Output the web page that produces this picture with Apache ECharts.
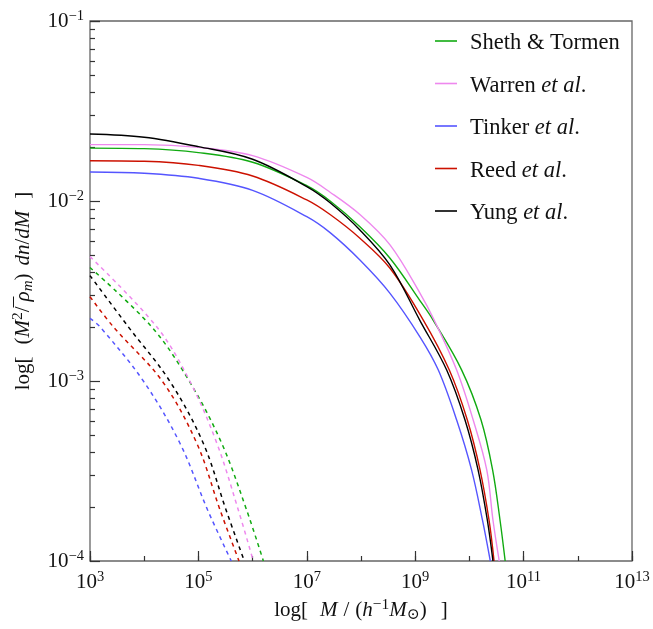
<!DOCTYPE html>
<html><head><meta charset="utf-8">
<script src="https://cdn.jsdelivr.net/npm/echarts@6/dist/echarts.min.js"></script>
<style>html,body{margin:0;padding:0;background:#fff}#c{width:653px;height:629px}</style>
</head><body><div id="c"></div>
<script>
// ---- data (M in h^-1 Msun, y = M^2/rho_m dn/dM) ----
const legendNames = ['Sheth & Tormen', 'Warren et al.', 'Tinker et al.', 'Reed et al.', 'Yung et al.'];
const lineColors = ['#11aa11', '#ee88ee', '#5555ff', '#cc1100', '#000000'];

const shethTormenSolid = [[1e3,0.01968],[1e4,0.01954],[1e5,0.01858],[1e6,0.01641],[1e7,0.01216],[2.69e7,0.0100],[9.55e7,0.00719],[3.43e8,0.00481],[1.23e9,0.00279],[2.14e9,0.00218],[7.21e9,0.00115],[1.64e10,6.07e-4],[2.68e10,3.21e-4],[3.67e10,1.69e-4],[4.57e10,1e-4]];
const warrenSolid = [[1e3,0.02056],[1e4,0.02056],[1e5,0.01986],[1e6,0.01786],[1e7,0.01352],[2.69e7,0.01119],[9.55e7,0.00841],[3.43e8,0.0057],[1.23e9,0.00307],[2.24e9,0.00218],[5.82e9,0.00115],[1.175e10,6.07e-4],[2.09e10,3.21e-4],[2.72e10,1.69e-4],[3.55e10,1e-4]];
const tinkerSolid = [[1e3,0.01449],[1e4,0.01426],[1e5,0.01337],[1e6,0.01146],[1e7,0.00818],[2.69e7,0.00667],[9.55e7,0.0047],[3.43e8,0.00307],[1.23e9,0.001755],[2.67e9,0.00115],[5.82e9,6.07e-4],[1.096e10,3.21e-4],[1.74e10,1.69e-4],[2.43e10,1e-4]];
const reedSolid = [[1e3,0.01675],[1e4,0.01663],[1e5,0.01578],[1e6,0.01377],[1e7,0.01014],[2.69e7,0.00841],[9.55e7,0.00621],[3.43e8,0.00423],[1.41e9,0.00218],[4.26e9,0.00115],[9.16e9,6.07e-4],[1.57e10,3.21e-4],[2.3e10,1.69e-4],[2.85e10,1e-4]];
const yungSolid = [[1e3,0.02355],[1e4,0.0226],[1e5,0.02004],[1e6,0.01706],[1e7,0.01202],[2.69e7,0.00977],[9.55e7,0.0069],[3.43e8,0.0044],[1.21e9,0.00218],[3.81e9,0.00115],[8.3e9,6.07e-4],[1.445e10,3.21e-4],[2.14e10,1.69e-4],[2.72e10,1e-4]];

const shethTormenDashed = [[1e3,4.27e-3],[1.37e4,2.0e-3],[6.76e4,1e-3],[2.69e5,4.51e-4],[7.76e5,1.92e-4],[1.58e6,1e-4]];
const warrenDashed = [[1e3,4.91e-3],[1.7e4,2.0e-3],[6.92e4,1e-3],[2.19e5,4.51e-4],[5.45e5,1.92e-4],[1.03e6,1e-4]];
const tinkerDashed = [[1e3,2.23e-3],[1.53e3,2.0e-3],[9.64e3,1e-3],[4.57e4,4.51e-4],[1.48e5,1.92e-4],[4.04e5,1e-4]];
const reedDashed = [[1e3,2.94e-3],[2.69e3,2.0e-3],[2.14e4,1e-3],[9.33e4,4.51e-4],[2.51e5,1.92e-4],[5.61e5,1e-4]];
const yungDashed = [[1e3,3.85e-3],[5.09e3,2.0e-3],[2.95e4,1e-3],[1.23e5,4.51e-4],[3.24e5,1.92e-4],[7.03e5,1e-4]];

const solidData = [shethTormenSolid, warrenSolid, tinkerSolid, reedSolid, yungSolid];
const dashedData = [shethTormenDashed, warrenDashed, tinkerDashed, reedDashed, yungDashed];

// ---- chart ----
const F = '"Liberation Serif", "DejaVu Serif", serif';
const TXT = '#111';
const powRich = {
  b: {fontSize: 21, fontFamily: F, color: TXT, lineHeight: 24},
  s: {fontSize: 14.5, fontFamily: F, color: TXT, lineHeight: 14, verticalAlign: 'top'}
};
function powLabel(v) {
  const e = Math.round(Math.log10(v));
  return '{b|10}{s|' + String(e).replace('-', '\u2212') + '}';
}
const nameRich = {
  t: {fontSize: 21, fontFamily: F, color: TXT, lineHeight: 26},
  i: {fontSize: 21, fontFamily: F, fontStyle: 'italic', color: TXT, lineHeight: 26},
  s: {fontSize: 15.5, fontFamily: F, color: TXT, lineHeight: 14, verticalAlign: 'top'},
  u: {fontSize: 15.5, fontFamily: F, color: TXT, lineHeight: 12, verticalAlign: 'bottom'},
  ui: {fontSize: 15, fontFamily: F, fontStyle: 'italic', color: TXT, lineHeight: 12, verticalAlign: 'bottom'},
  ob: {fontSize: 21, fontFamily: F, color: TXT, lineHeight: 26, width: 1},
  g4: {width: 4, lineHeight: 26}, g6: {width: 6, lineHeight: 26}, g8: {width: 8, lineHeight: 26},
  g10: {width: 10, lineHeight: 26}, g12: {width: 12, lineHeight: 26}, g14: {width: 14, lineHeight: 26}
};
const chart = echarts.init(document.getElementById('c'), null, {renderer: 'canvas'});

const series = [];
dashedData.forEach((d, i) => series.push({
  name: legendNames[i] + ' (dashed)', type: 'line', data: d, smooth: 0.35, smoothConstraint: false,
  symbol: 'none', z: 2, silent: true,
  lineStyle: {color: lineColors[i], width: 1.5, type: [4, 4]}
}));
solidData.forEach((d, i) => series.push({
  name: legendNames[i], type: 'line', data: d, smooth: 0.35, smoothConstraint: false,
  symbol: 'none', z: 3 + i, silent: true, itemStyle: {color: lineColors[i]},
  lineStyle: {color: lineColors[i], width: 1.4}
}));

chart.setOption({
  animation: false,
  backgroundColor: '#fff',
  grid: {left: 90, top: 21, width: 542, height: 540, show: true, borderColor: '#666', borderWidth: 1.3, backgroundColor: 'transparent'},
  legend: {
    data: legendNames, orient: 'vertical', left: 430, top: 21.5, itemWidth: 22, itemHeight: 1.6, itemGap: 13.5,
    icon: 'rect', selectedMode: false,
    textStyle: {fontFamily: F, fontSize: 22.5, color: TXT, lineHeight: 24, padding: [5, 0, 0, 8],
      rich: {i: {fontFamily: F, fontSize: 22.5, fontStyle: 'italic', color: TXT}}},
    formatter: n => n.replace('et al', '{i|et al}')
  },
  xAxis: [{
    type: 'log', logBase: 10, min: 1e3, max: 1e13, interval: 2, position: 'bottom',
    axisLine: {show: false},
    axisTick: {show: true, inside: true, length: 10, lineStyle: {color: '#333', width: 1.2}},
    splitLine: {show: false},
    axisLabel: {formatter: powLabel, rich: powRich, margin: 9},
    name: '{t|log[}{g12| }{i|M}{g6| }{t|/}{g6| }{t|(}{i|h}{s|\u22121}{i|M}{u|\u2299}{t|)}{g14| }{t|]}',
    nameLocation: 'middle', nameGap: 33,
    nameTextStyle: {rich: nameRich}
  }, {
    type: 'log', logBase: 10, min: 1e3, max: 1e13, interval: 1, position: 'bottom',
    axisLine: {show: false}, axisLabel: {show: false}, splitLine: {show: false},
    axisTick: {show: true, inside: true, length: 5, lineStyle: {color: '#333', width: 1.2}}
  }],
  yAxis: [{
    type: 'log', logBase: 10, min: 1e-4, max: 1e-1, interval: 1,
    axisLine: {show: false},
    axisTick: {show: true, inside: true, length: 10, lineStyle: {color: '#333', width: 1.2}},
    minorTick: {show: true, splitNumber: 9, length: 5, lineStyle: {color: '#333', width: 1.2}},
    splitLine: {show: false}, minorSplitLine: {show: false},
    axisLabel: {formatter: powLabel, rich: powRich, margin: 6},
    name: '{t|log[}{g12| }{t|(}{i|M}{s|2}{t|/}{g4| }{ob|\u00AF}{i|\u03C1}{ui|m}{t|)}{g8| }{i|dn}{t|/}{i|dM}{g12| }{t|]}',
    nameLocation: 'middle', nameRotate: 90, nameGap: 54,
    nameTextStyle: {rich: nameRich}
  }],
  series: series
});
</script></body></html>
